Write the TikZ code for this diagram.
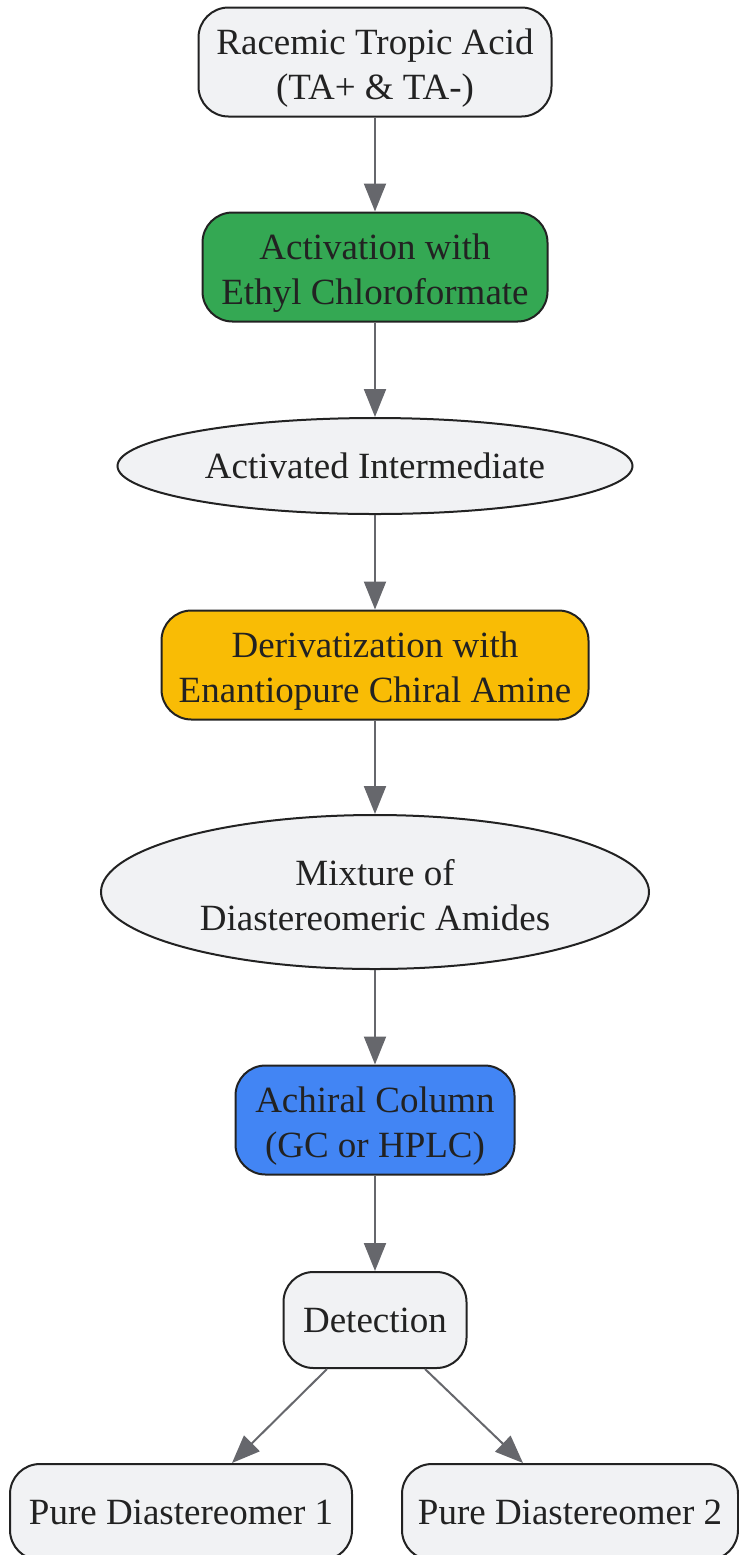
\documentclass[tikz,border=0pt]{standalone}
\usepackage{fontspec}
\setmainfont{Liberation Serif}
\usetikzlibrary{shapes.geometric,arrows.meta}
\definecolor{boxfill}{HTML}{F1F2F4}
\definecolor{boxline}{HTML}{222222}
\definecolor{flowgray}{HTML}{66676C}
\definecolor{actgreen}{HTML}{34A853}
\definecolor{deryellow}{HTML}{F9BC05}
\definecolor{colblue}{HTML}{4285F4}
\newcommand\topgap[1][19pt]{\rule{0pt}{#1}}

\begin{document}
\begin{tikzpicture}[x=0.5pt,y=-0.5pt,
    stepbox/.style={draw=boxline, line width=1pt, fill=boxfill, rounded corners=15pt,
      align=center, inner sep=0pt, text=boxline, font=\fontsize{18.5}{22.5}\selectfont},
    stepoval/.style={stepbox, ellipse, rounded corners=0pt},
    flow/.style={draw=flowgray, line width=1pt, -{Triangle[length=14pt,width=11pt]}}]
			%%%%% START %%%%%
			
			\useasboundingbox (0,0) rectangle (739,1555);
			
			\node[stepbox, minimum width=176.5pt, minimum height=54.5pt] (acid) at (375,62) {\topgap Racemic Tropic Acid\\(TA+ \& TA-)};
			\node[stepbox, fill=actgreen, minimum width=172.5pt, minimum height=54.5pt] (activ) at (375,267) {\topgap Activation with\\Ethyl Chloroformate};
			\node[stepoval, minimum width=257.5pt, minimum height=48pt] (inter) at (375,466) {Activated Intermediate};
			\node[stepbox, fill=deryellow, minimum width=213.5pt, minimum height=54.5pt] (deriv) at (375,665) {\topgap Derivatization with\\Enantiopure Chiral Amine};
			\node[stepoval, minimum width=274pt, minimum height=77pt] (amides) at (375,892) {\topgap[16pt]Mixture of\\Diastereomeric Amides};
			\node[stepbox, fill=colblue, minimum width=139.5pt, minimum height=54.5pt] (column) at (375,1120) {\topgap Achiral Column\\(GC or HPLC)};
			\node[stepbox, minimum width=91.5pt, minimum height=48pt] (detect) at (375,1320) {Detection};
			\node[stepbox, minimum width=171pt, minimum height=48pt] (pure1) at (181,1512) {Pure Diastereomer 1};
			\node[stepbox, minimum width=168pt, minimum height=48pt] (pure2) at (570,1512) {Pure Diastereomer 2};
			
			\draw[flow] (acid) -- (activ);
			\draw[flow] (activ) -- (inter);
			\draw[flow] (inter) -- (deriv);
			\draw[flow] (deriv) -- (amides);
			\draw[flow] (amides) -- (column);
			\draw[flow] (column) -- (detect);
			\draw[flow] ([xshift=-24pt]detect.south) -- ([xshift=25.5pt]pure1.north);
			\draw[flow] ([xshift=25pt]detect.south) -- ([xshift=-23.5pt]pure2.north);
			
			%%%%% END %%%%%
\end{tikzpicture}
\end{document}
